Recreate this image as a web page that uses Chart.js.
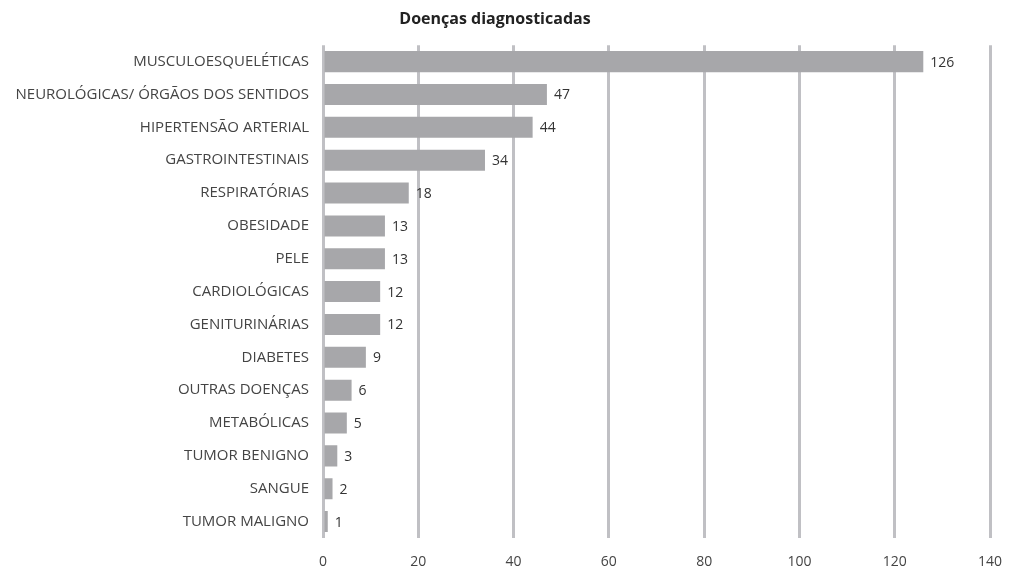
<!DOCTYPE html>
<html>
<head>
<meta charset="utf-8">
<script src="https://cdn.jsdelivr.net/npm/chart.js@4/dist/chart.umd.min.js"></script>
<style>
  html, body { margin: 0; padding: 0; background: #fff; }
  #wrap { width: 1011px; height: 568px; }
</style>
</head>
<body>
<div id="wrap"><canvas id="doencasChart"></canvas></div>
<script>
// Dados
const categorias = [
  "MUSCULOESQUELÉTICAS",
  "NEUROLÓGICAS/ ÓRGÃOS DOS SENTIDOS",
  "HIPERTENSÃO ARTERIAL",
  "GASTROINTESTINAIS",
  "RESPIRATÓRIAS",
  "OBESIDADE",
  "PELE",
  "CARDIOLÓGICAS",
  "GENITURINÁRIAS",
  "DIABETES",
  "OUTRAS DOENÇAS",
  "METABÓLICAS",
  "TUMOR BENIGNO",
  "SANGUE",
  "TUMOR MALIGNO"
];
const valores = [126, 47, 44, 34, 18, 13, 13, 12, 12, 9, 6, 5, 3, 2, 1];
const eixoX = [0, 20, 40, 60, 80, 100, 120, 140];

const fonte = "'Open Sans', 'Noto Sans', sans-serif";

// Plugin para escrever os valores ao lado das barras
const rotulosValores = {
  id: "rotulosValores",
  afterDatasetsDraw(chart) {
    const ctx = chart.ctx;
    const meta = chart.getDatasetMeta(0);
    ctx.save();
    ctx.font = "14px " + fonte;
    ctx.fillStyle = "#333333";
    ctx.textAlign = "left";
    ctx.textBaseline = "middle";
    meta.data.forEach((bar, i) => {
      ctx.fillText(String(valores[i]), bar.x + 7, bar.y + 1);
    });
    ctx.restore();
  }
};

const ctx = document.getElementById("doencasChart").getContext("2d");
new Chart(ctx, {
  type: "bar",
  data: {
    labels: categorias,
    datasets: [{
      data: valores,
      backgroundColor: "#a7a7aa",
      borderWidth: 0,
      categoryPercentage: 1,
      barPercentage: 0.64
    }]
  },
  options: {
    indexAxis: "y",
    responsive: true,
    maintainAspectRatio: false,
    animation: false,
    layout: { padding: { left: 0, right: 21, top: 10, bottom: 0 } },
    plugins: {
      legend: { display: false },
      tooltip: { enabled: false },
      title: {
        display: true,
        text: "Doenças diagnosticadas",
        color: "#222222",
        font: { family: fonte, size: 16, weight: "bold" },
        padding: { top: 0, bottom: 16 }
      }
    },
    scales: {
      x: {
        min: 0,
        max: 140,
        afterBuildTicks: (s) => { s.ticks = eixoX.map(v => ({ value: v })); },
        afterFit: (s) => { s.height = 30; s.paddingLeft = 0; s.paddingRight = 0; },
        grid: { color: "#c0c0c4", lineWidth: 3, drawTicks: false },
        border: { display: false },
        ticks: {
          color: "#444444",
          font: { family: fonte, size: 14 },
          padding: 16
        }
      },
      y: {
        afterFit: (s) => { s.width = 323; },
        grid: { display: false },
        border: { display: false },
        ticks: {
          color: "#444444",
          font: { family: fonte, size: 15 },
          padding: 6,
          autoSkip: false
        }
      }
    }
  },
  plugins: [rotulosValores]
});
</script>
</body>
</html>
